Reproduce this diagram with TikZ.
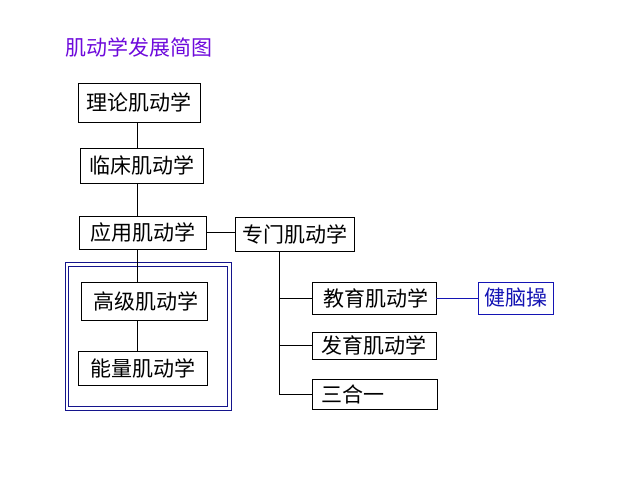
\documentclass[tikz,border=0pt]{standalone}
\usepackage{fontspec}
\newfontfamily\cjk{Noto Sans CJK SC}
\definecolor{titlepurple}{RGB}{110,10,220}
\definecolor{navy}{RGB}{20,20,140}
\definecolor{linkblue}{RGB}{20,20,180}
\tikzset{
  cjkfont/.style={font=\cjk\fontsize{21}{24}\selectfont},
  box/.style={draw=black, line width=0.9pt, rectangle, inner sep=0pt, cjkfont, text=black},
  conn/.style={draw=black, line width=0.9pt},
}
\begin{document}
\begin{tikzpicture}[x=1pt,y=-1pt]
\useasboundingbox[fill=white] (0,0) rectangle (640,480);
\node[font=\cjk\fontsize{21}{24}\selectfont, text=titlepurple, inner sep=0pt] (title) at (139,47.5) {肌动学发展简图};
% double frame
\draw[navy, line width=1pt] (65,262) rectangle (231,410);
\draw[navy, line width=1pt] (68.5,266.5) rectangle (227.5,406.5);
\node[box, minimum width=122pt, minimum height=39pt] (A) at (139,102.5) {理论肌动学};
\node[box, minimum width=123pt, minimum height=35pt] (B) at (141.5,165.5) {临床肌动学};
\node[box, minimum width=127pt, minimum height=33pt] (C) at (142.5,232.5) {应用肌动学};
\node[box, minimum width=119pt, minimum height=34pt] (D) at (294.5,234) {专门肌动学};
\node[box, minimum width=126pt, minimum height=38pt] (E) at (144,301) {\hspace{4pt}高级肌动学};
\node[box, minimum width=129pt, minimum height=34pt] (F) at (142.5,368) {能量肌动学};
\node[box, minimum width=124pt, minimum height=32pt] (G) at (374,298) {\hspace{3pt}教育肌动学};
\node[box, minimum width=124pt, minimum height=27pt] (H) at (374,345.5) {发育肌动学};
\node[box, minimum width=125pt, minimum height=30pt] (I) at (374.5,394) {};
\node[cjkfont, inner sep=0pt, anchor=west] (Itext) at (321,394) {三合一};
\node[box, draw=linkblue, text=linkblue, minimum width=75pt, minimum height=32pt] (J) at (515.5,298) {健脑操};
% connectors
\coordinate (col) at (137,0);
\coordinate (dcol) at (279,0);
\draw[conn] (col |- A.south) -- (col |- B.north);
\draw[conn] (col |- B.south) -- (col |- C.north);
\draw[conn] (col |- C.south) -- (col |- E.north);
\draw[conn] (col |- E.south) -- (col |- F.north);
\draw[conn] (C.east) -- (C.east -| D.west);
\draw[conn] (dcol |- D.south) -- (dcol |- I.west) -- (I.west);
\draw[conn] (dcol |- G.west) -- (G.west);
\draw[conn] (dcol |- H.west) -- (H.west);
\draw[linkblue, line width=0.9pt] (G.east) -- (J.west);
\end{tikzpicture}
\end{document}
